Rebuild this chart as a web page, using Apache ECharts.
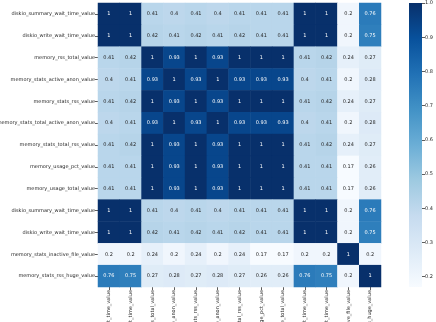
<!DOCTYPE html>
<html>
<head>
<meta charset="utf-8">
<script src="https://cdn.jsdelivr.net/npm/echarts@6/dist/echarts.min.js"></script>
<style>html,body{margin:0;padding:0;background:#fff;}#c{width:436px;height:322px;}</style>
</head>
<body>
<div id="c"></div>
<script>
var labels = [
  'diskio_summary_wait_time_value',
  'diskio_write_wait_time_value',
  'memory_rss_total_value',
  'memory_stats_active_anon_value',
  'memory_stats_rss_value',
  'memory_stats_total_active_anon_value',
  'memory_stats_total_rss_value',
  'memory_usage_pct_value',
  'memory_usage_total_value',
  'diskio_summary_wait_time_value',
  'diskio_write_wait_time_value',
  'memory_stats_inactive_file_value',
  'memory_stats_rss_huge_value'
];
var row0  = [1, 1, 0.41, 0.4, 0.41, 0.4, 0.41, 0.41, 0.41, 1, 1, 0.2, 0.76];
var row1  = [1, 1, 0.42, 0.41, 0.42, 0.41, 0.42, 0.41, 0.41, 1, 1, 0.2, 0.75];
var row2  = [0.41, 0.42, 1, 0.93, 1, 0.93, 1, 1, 1, 0.41, 0.42, 0.24, 0.27];
var row3  = [0.4, 0.41, 0.93, 1, 0.93, 1, 0.93, 0.93, 0.93, 0.4, 0.41, 0.2, 0.28];
var row4  = [0.41, 0.42, 1, 0.93, 1, 0.93, 1, 1, 1, 0.41, 0.42, 0.24, 0.27];
var row5  = [0.4, 0.41, 0.93, 1, 0.93, 1, 0.93, 0.93, 0.93, 0.4, 0.41, 0.2, 0.28];
var row6  = [0.41, 0.42, 1, 0.93, 1, 0.93, 1, 1, 1, 0.41, 0.42, 0.24, 0.27];
var row7  = [0.41, 0.41, 1, 0.93, 1, 0.93, 1, 1, 1, 0.41, 0.41, 0.17, 0.26];
var row8  = [0.41, 0.41, 1, 0.93, 1, 0.93, 1, 1, 1, 0.41, 0.41, 0.17, 0.26];
var row9  = [1, 1, 0.41, 0.4, 0.41, 0.4, 0.41, 0.41, 0.41, 1, 1, 0.2, 0.76];
var row10 = [1, 1, 0.42, 0.41, 0.42, 0.41, 0.42, 0.41, 0.41, 1, 1, 0.2, 0.75];
var row11 = [0.2, 0.2, 0.24, 0.2, 0.24, 0.2, 0.24, 0.17, 0.17, 0.2, 0.2, 1, 0.2];
var row12 = [0.76, 0.75, 0.27, 0.28, 0.27, 0.28, 0.27, 0.26, 0.26, 0.76, 0.75, 0.2, 1];
var rows = [row0,row1,row2,row3,row4,row5,row6,row7,row8,row9,row10,row11,row12];
var colorbarTicks = [0.2, 0.3, 0.4, 0.5, 0.6, 0.7, 0.8, 0.9, 1.0];

var blues = ['#f7fbff','#deebf7','#c6dbef','#9ecae1','#6baed6','#4292c6','#2171b5','#08519c','#08306b'];
var vmin = 0.17, vmax = 1;

var data = [];
rows.forEach(function(r, i){
  r.forEach(function(v, j){
    data.push({value:[j, i, v], label:{color: v > 0.6 ? '#ffffff' : '#262626'}});
  });
});

// gradient for colorbar: top = vmax color, bottom = vmin color
var stops = blues.map(function(c, k){ return {offset: 1 - k/(blues.length-1), color: c}; }).reverse();
var barGrad = new echarts.graphic.LinearGradient(0, 0, 0, 1, stops);

var font = 'DejaVu Sans';
var chart = echarts.init(document.getElementById('c'), null, {renderer:'canvas'});
chart.setOption({
  animation:false,
  backgroundColor:'#fff',
  grid:[
    {left:98, top:3, width:283, height:284, outerBoundsMode:'none', containLabel:false},
    {left:409, top:3, width:13, height:284, outerBoundsMode:'none', containLabel:false}
  ],
  xAxis:[
    {type:'category', data:labels, gridIndex:0, position:'bottom',
     axisLine:{show:false}, axisTick:{show:true, alignWithLabel:true, length:3, lineStyle:{color:'#333', width:0.8}},
     axisLabel:{rotate:90, fontSize:5, fontFamily:font, color:'#262626', margin:3, interval:0},
     splitLine:{show:false}},
    {type:'category', gridIndex:1, show:false, data:['cb']}
  ],
  yAxis:[
    {type:'category', data:labels, gridIndex:0, inverse:true,
     axisLine:{show:false}, axisTick:{show:true, alignWithLabel:true, length:3, lineStyle:{color:'#333', width:0.8}},
     axisLabel:{fontSize:5, fontFamily:font, color:'#262626', margin:3, interval:0},
     splitLine:{show:false}},
    {type:'value', gridIndex:1, min:vmin, max:vmax, position:'right',
     axisLine:{show:false},
     axisTick:{show:true, length:3, customValues:colorbarTicks, lineStyle:{color:'#333', width:0.8}},
     axisLabel:{fontSize:5, fontFamily:font, color:'#262626', margin:3, customValues:colorbarTicks,
       formatter:function(v){return v.toFixed(1);}},
     splitLine:{show:false}}
  ],
  visualMap:{
    type:'continuous', min:vmin, max:vmax, seriesIndex:0, dimension:2,
    inRange:{color:blues}, calculable:false, show:false
  },
  series:[{
    type:'heatmap', xAxisIndex:0, yAxisIndex:0, data:data,
    label:{show:true, fontSize:5, fontFamily:font},
    itemStyle:{borderWidth:0},
    emphasis:{disabled:true}
  },{
    type:'bar', xAxisIndex:1, yAxisIndex:1, stack:'cb', data:[vmin],
    barWidth:'100%', itemStyle:{color:'rgba(0,0,0,0)'}, silent:true
  },{
    type:'bar', xAxisIndex:1, yAxisIndex:1, stack:'cb', data:[vmax - vmin],
    barWidth:'100%', itemStyle:{color:barGrad}, silent:true
  }]
});
</script>
</body>
</html>
